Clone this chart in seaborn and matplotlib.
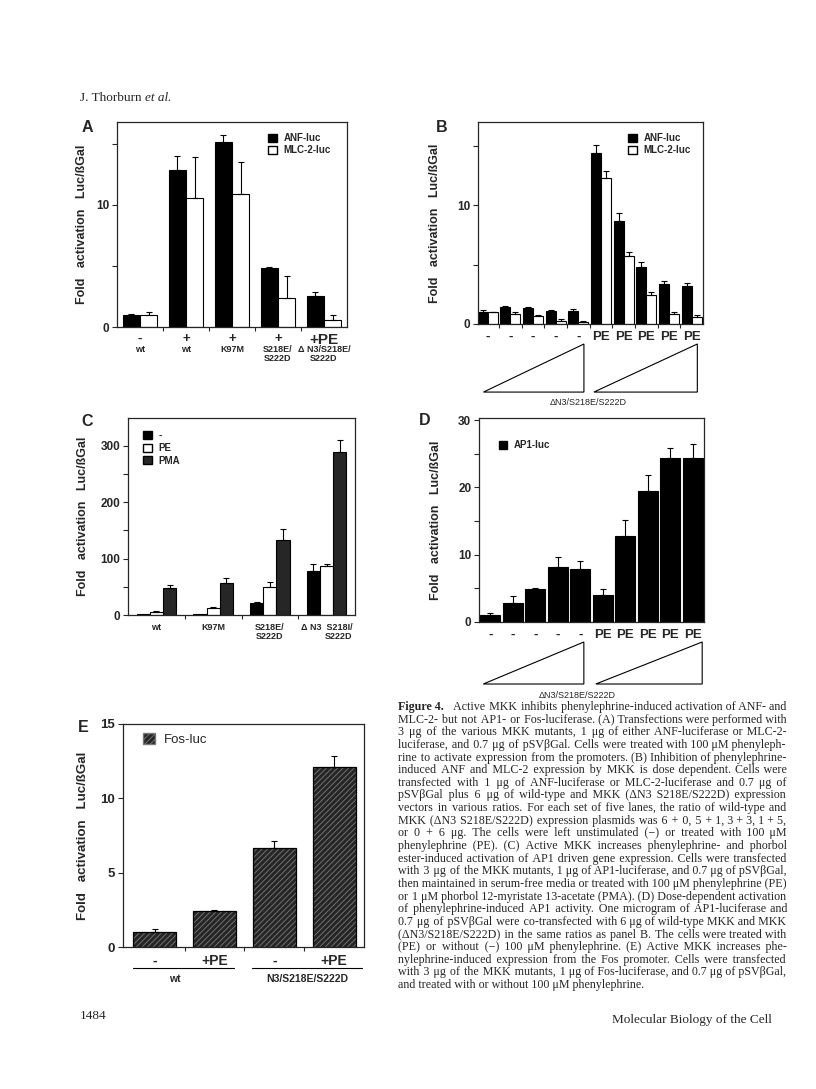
import numpy as np
import pandas as pd
import matplotlib
matplotlib.use('Agg')
import matplotlib.pyplot as plt
import matplotlib.transforms as mtransforms
from matplotlib.patches import Patch, Polygon, Rectangle
import seaborn as sns

# ---- data ----
# Panel A
a_top = ['-', '+', '+', '+', '+PE']
a_bottom = ['wt', 'wt', 'K97M', 'S218E/\nS222D', '\u0394 N3/S218E/\nS222D']
a_anf = [1.0, 12.9, 15.2, 4.8, 2.5]
a_anf_err = [0.1, 1.1, 0.5, 0.1, 0.4]
a_mlc = [1.0, 10.6, 10.9, 2.4, 0.6]
a_mlc_err = [0.2, 3.3, 2.6, 1.8, 0.4]

# Panel B
b_labels = ['-', '-', '-', '-', '-', 'PE', 'PE', 'PE', 'PE', 'PE']
b_anf = [1.0, 1.42, 1.34, 1.12, 1.06, 14.4, 8.7, 4.8, 3.35, 3.24]
b_anf_err = [0.2, 0.08, 0.08, 0.08, 0.2, 0.7, 0.65, 0.45, 0.3, 0.2]
b_mlc = [1.0, 0.87, 0.64, 0.28, 0.17, 12.3, 5.7, 2.46, 0.84, 0.61]
b_mlc_err = [0.05, 0.13, 0.08, 0.14, 0.05, 0.6, 0.35, 0.22, 0.14, 0.14]

# Panel C
c_labels = ['wt', 'K97M', 'S218E/\nS222D', '\u0394 N3  S218I/\nS222D']
c_none = [1, 1, 22, 78]
c_none_err = [0, 0, 1.5, 12]
c_pe = [4.7, 12, 50, 87]
c_pe_err = [2, 3, 8, 4]
c_pma = [48, 56, 132, 288]
c_pma_err = [6, 10, 20, 22]

# Panel D
d_labels = ['-', '-', '-', '-', '-', 'PE', 'PE', 'PE', 'PE', 'PE']
d_ap1 = [1.07, 2.8, 4.9, 8.2, 7.85, 4.0, 12.8, 19.4, 24.3, 24.3]
d_ap1_err = [0.23, 1.0, 0.2, 1.4, 1.25, 0.85, 2.3, 2.4, 1.5, 2.2]

# Panel E
e_labels = ['-', '+PE', '-', '+PE']
e_fos = [1.0, 2.43, 6.63, 12.14]
e_fos_err = [0.2, 0.07, 0.51, 0.74]

W, H = 816, 1089
HATCH_FACE = '#262626'
HATCH_LINE = '#7a7a7a'
PMA_GRAY = '#262626'

sns.set_style('ticks')
plt.rcParams['font.family'] = ['Liberation Sans', 'DejaVu Sans']
plt.rcParams['font.weight'] = 'bold'
plt.rcParams['axes.labelweight'] = 'bold'
plt.rcParams['axes.linewidth'] = 0.9
plt.rcParams['hatch.linewidth'] = 0.6
plt.rcParams['xtick.direction'] = 'out'
plt.rcParams['ytick.direction'] = 'out'

fig = plt.figure(figsize=(W / 100, H / 100), dpi=100)


def place(x0, y0, x1, y1):
    return fig.add_axes([x0 / W, 1 - y1 / H, (x1 - x0) / W, (y1 - y0) / H])


def grouped_bars(ax, n, series, names, colors, width):
    cats = [f'g{i}' for i in range(n)]
    rows = []
    for name, vals in zip(names, series):
        for c, v in zip(cats, vals):
            rows.append({'cat': c, 'val': v, 'ser': name})
    df = pd.DataFrame(rows)
    sns.barplot(data=df, x='cat', y='val', hue='ser', order=cats, hue_order=names,
                palette=dict(zip(names, colors)), width=width, saturation=1,
                edgecolor='k', linewidth=0.8, legend=False, ax=ax)


def add_errors(ax, errs_list):
    for cont, errs in zip(ax.containers, errs_list):
        for bar, e in zip(cont, errs):
            if e <= 0:
                continue
            x = bar.get_x() + bar.get_width() / 2
            h = bar.get_height()
            ax.errorbar(x, h, yerr=[[0], [e]], fmt='none', ecolor='k',
                        elinewidth=0.8, capsize=2.5, capthick=0.8)


def style_axes(ax, n, ylim, major, minor, ylabel_x, xlim=None):
    ax.set_ylim(*ylim)
    ax.set_xlim(*(xlim if xlim else (-0.5, n - 0.5)))
    ax.set_yticks(major)
    ax.set_yticks(minor, minor=True)
    ax.set_xticks(range(n))
    ax.set_xticks(np.arange(0.5, n - 1, 1), minor=True)
    ax.tick_params(axis='x', which='major', length=0, pad=4)
    ax.tick_params(axis='x', which='minor', length=3, width=0.8)
    ax.tick_params(axis='y', which='both', length=3.5, width=0.8, labelsize=8.5, pad=2)
    for s in ax.spines.values():
        s.set_visible(True)
    ax.set_xlabel('')
    ax.set_ylabel('Fold   activation   Luc/\u00dfGal', fontsize=9)
    ax.yaxis.set_label_coords(ylabel_x, 0.5)


def legend(ax, handles, anchor, size=7, weight='bold'):
    ax.legend(handles=handles, loc='upper left', bbox_to_anchor=anchor, frameon=False,
              prop={'size': size, 'weight': weight}, handlelength=0.9, handleheight=0.9,
              handletextpad=0.7, labelspacing=0.25, borderaxespad=0)


def wedge(ax, x0, x1, ytop, ybot):
    tr = mtransforms.blended_transform_factory(ax.transData, ax.transAxes)
    ax.add_patch(Polygon([(x0, ybot), (x1, ybot), (x1, ytop)], closed=True, fill=False,
                         edgecolor='k', linewidth=0.8, transform=tr, clip_on=False))


# ---------------- Panel A ----------------
axA = place(117, 122, 347, 327)
grouped_bars(axA, 5, [a_anf, a_mlc], ['ANF-luc', 'MLC-2-luc'], ['black', 'white'], 0.74)
add_errors(axA, [a_anf_err, a_mlc_err])
style_axes(axA, 5, (0, 16.8), [0, 10], [5, 15], -0.125)
axA.set_xticklabels(a_top, fontsize=9.5)
axA.get_xticklabels()[-1].set_fontsize(11)
trA = mtransforms.blended_transform_factory(axA.transData, axA.transAxes)
for i, lab in enumerate(a_bottom):
    axA.text(i, -0.088, lab, transform=trA, ha='center', va='top', fontsize=6.5,
             linespacing=1.05)
legend(axA, [Patch(fc='k', ec='k', label='ANF-luc'), Patch(fc='w', ec='k', label='MLC-2-luc')],
       (0.64, 0.965))

# ---------------- Panel B ----------------
axB = place(478, 122, 703, 324)
grouped_bars(axB, 10, [b_anf, b_mlc], ['ANF-luc', 'MLC-2-luc'], ['black', 'white'], 0.88)
add_errors(axB, [b_anf_err, b_mlc_err])
style_axes(axB, 10, (0, 17), [0, 10], [5, 15], -0.165, xlim=(-0.42, 9.5))
axB.set_xticklabels(b_labels, fontsize=9.5)
axB.tick_params(axis='x', which='major', pad=5)
wedge(axB, -0.18, 4.25, -0.099, -0.337)
wedge(axB, 4.69, 9.25, -0.099, -0.337)
trB = mtransforms.blended_transform_factory(axB.transData, axB.transAxes)
axB.text(4.45, -0.39, '\u0394N3/S218E/S222D', transform=trB, ha='center', va='center',
         fontsize=6.5, fontweight='normal')
legend(axB, [Patch(fc='k', ec='k', label='ANF-luc'), Patch(fc='w', ec='k', label='MLC-2-luc')],
       (0.65, 0.965))

# ---------------- Panel C ----------------
axC = place(128, 418, 355, 615)
grouped_bars(axC, 4, [c_none, c_pe, c_pma], ['-', 'PE', 'PMA'], ['black', 'white', PMA_GRAY], 0.7)
add_errors(axC, [c_none_err, c_pe_err, c_pma_err])
style_axes(axC, 4, (0, 349), [0, 100, 200, 300], [50, 150, 250], -0.17)
axC.set_xticklabels(c_labels, fontsize=6.5, linespacing=1.0)
axC.get_xticklabels()[3].set_multialignment('right')
axC.tick_params(axis='x', which='major', pad=6)
legend(axC, [Patch(fc='k', ec='k', label='-'), Patch(fc='w', ec='k', label='PE'),
             Patch(fc=PMA_GRAY, ec='k', label='PMA')], (0.05, 0.955))

# ---------------- Panel D ----------------
axD = place(479, 418, 704, 622)
sns.barplot(x=[f'd{i}' for i in range(10)], y=d_ap1, color='black', saturation=1,
            width=0.88, edgecolor='k', linewidth=0.8, ax=axD)
add_errors(axD, [d_ap1_err])
style_axes(axD, 10, (0, 30.3), [0, 10, 20, 30], [5, 15, 25], -0.165)
axD.set_xticklabels(d_labels, fontsize=9.5)
axD.tick_params(axis='x', which='minor', length=0)
axD.tick_params(axis='x', which='major', pad=5)
wedge(axD, -0.31, 4.16, -0.098, -0.304)
wedge(axD, 4.69, 9.42, -0.098, -0.304)
trD = mtransforms.blended_transform_factory(axD.transData, axD.transAxes)
axD.text(3.85, -0.36, '\u0394N3/S218E/S222D', transform=trD, ha='center', va='center',
         fontsize=6.5, fontweight='normal')
legend(axD, [Patch(fc='k', ec='k', label='AP1-luc')], (0.07, 0.91))

# ---------------- Panel E ----------------
axE = place(123, 724, 364, 947)
sns.barplot(x=[f'e{i}' for i in range(4)], y=e_fos, color=HATCH_FACE, saturation=1,
            width=0.72, edgecolor=HATCH_LINE, linewidth=0.6, hatch='//////', ax=axE)
for bar in list(axE.containers[0]):
    axE.add_patch(Rectangle((bar.get_x(), 0), bar.get_width(), bar.get_height(),
                            fill=False, edgecolor='k', linewidth=0.9))
add_errors(axE, [e_fos_err])
style_axes(axE, 4, (0, 15), [0, 5, 10, 15], [], -0.14, xlim=(-0.53, 3.5))
axE.tick_params(axis='y', labelsize=9.5)
axE.set_xticklabels(e_labels, fontsize=10)
axE.tick_params(axis='x', which='major', pad=5)
axE.set_ylabel('Fold   activation   Luc/\u00dfGal', fontsize=9.5)
trE = mtransforms.blended_transform_factory(axE.transData, axE.transAxes)
for x0, x1 in [(-0.37, 1.33), (1.63, 3.47)]:
    axE.plot([x0, x1], [-0.094, -0.094], color='k', linewidth=0.8, transform=trE, clip_on=False)
axE.text(0.33, -0.143, 'wt', transform=trE, ha='center', va='center', fontsize=7.5)
axE.text(2.55, -0.143, 'N3/S218E/S222D', transform=trE, ha='center', va='center', fontsize=7.5)
legend(axE, [Patch(fc=HATCH_FACE, ec=HATCH_LINE, hatch='//////', label='Fos-luc')],
       (0.06, 0.985), size=9.5, weight='normal')

# panel letters
for letter, (px, py) in zip('ABCDE', [(87, 127), (442, 127), (87, 422), (425, 421), (83, 727)]):
    fig.text(px / W, 1 - py / H, letter, fontsize=11.5, fontweight='bold',
             ha='center', va='center')

# ---------------- page text ----------------
SERIF = ['Liberation Serif', 'DejaVu Serif']
renderer = fig.canvas.get_renderer()

caption_head = 'Figure 4.'
caption = [
    'Active MKK inhibits phenylephrine-induced activation of ANF- and',
    'MLC-2- but not AP1- or Fos-luciferase. (A) Transfections were performed with',
    '3 \u03bcg of the various MKK mutants, 1 \u03bcg of either ANF-luciferase or MLC-2-',
    'luciferase, and 0.7 \u03bcg of pSV\u03b2Gal. Cells were treated with 100 \u03bcM phenyleph-',
    'rine to activate expression from the promoters. (B) Inhibition of phenylephrine-',
    'induced ANF and MLC-2 expression by MKK is dose dependent. Cells were',
    'transfected with 1 \u03bcg of ANF-luciferase or MLC-2-luciferase and 0.7 \u03bcg of',
    'pSV\u03b2Gal plus 6 \u03bcg of wild-type and MKK (\u0394N3 S218E/S222D) expression',
    'vectors in various ratios. For each set of five lanes, the ratio of wild-type and',
    'MKK (\u0394N3 S218E/S222D) expression plasmids was 6 + 0, 5 + 1, 3 + 3, 1 + 5,',
    'or 0 + 6 \u03bcg. The cells were left unstimulated (\u2212) or treated with 100 \u03bcM',
    'phenylephrine (PE). (C) Active MKK increases phenylephrine- and phorbol',
    'ester-induced activation of AP1 driven gene expression. Cells were transfected',
    'with 3 \u03bcg of the MKK mutants, 1 \u03bcg of AP1-luciferase, and 0.7 \u03bcg of pSV\u03b2Gal,',
    'then maintained in serum-free media or treated with 100 \u03bcM phenylephrine (PE)',
    'or 1 \u03bcM phorbol 12-myristate 13-acetate (PMA). (D) Dose-dependent activation',
    'of phenylephrine-induced AP1 activity. One microgram of AP1-luciferase and',
    '0.7 \u03bcg of pSV\u03b2Gal were co-transfected with 6 \u03bcg of wild-type MKK and MKK',
    '(\u0394N3/S218E/S222D) in the same ratios as panel B. The cells were treated with',
    '(PE) or without (\u2212) 100 \u03bcM phenylephrine. (E) Active MKK increases phe-',
    'nylephrine-induced expression from the Fos promoter. Cells were transfected',
    'with 3 \u03bcg of the MKK mutants, 1 \u03bcg of Fos-luciferase, and 0.7 \u03bcg of pSV\u03b2Gal,',
    'and treated with or without 100 \u03bcM phenylephrine.',
]

HAIR = '\u200a'


def text_w(s, **kw):
    t = fig.text(0, 0, s, **kw)
    w = t.get_window_extent(renderer).width
    t.remove()
    return w


cap_x0, cap_x1 = 398, 786
cap_y0, cap_dy = 710, 12.64
# pick the largest size at which every line still fits the column
cap_fs = 9.0
widest = max(text_w(l, family=SERIF, fontsize=cap_fs, fontweight='normal') for l in caption[1:])
cap_fs = min(cap_fs, cap_fs * (cap_x1 - cap_x0) / widest * 0.995)
kw = dict(family=SERIF, fontsize=cap_fs, fontweight='normal')
hair_w = (text_w('x' + HAIR * 20 + 'x', **kw) - text_w('xx', **kw)) / 20


def justify(line, width):
    words = line.split()
    natural = text_w(' '.join(words), **kw)
    n = max(0, int(round((width - natural) / hair_w)))
    gaps = len(words) - 1
    if gaps == 0:
        return line
    base, rem = divmod(n, gaps)
    out = words[0]
    for k, w in enumerate(words[1:]):
        out += ' ' + HAIR * (base + (1 if k < rem else 0)) + w
    return out


for i, line in enumerate(caption):
    y = 1 - round(cap_y0 + i * cap_dy) / H
    x0 = cap_x0
    if i == 0:
        th = fig.text(x0 / W, y, caption_head, family=SERIF, fontsize=cap_fs,
                      fontweight='bold', va='baseline')
        x0 += th.get_window_extent(renderer).width + cap_fs * 100 / 72 * 0.75
    if i == len(caption) - 1:
        s = line
    else:
        s = justify(line, cap_x1 - x0)
    fig.text(x0 / W, y, s, va='baseline', **kw)

t1 = fig.text(80 / W, 1 - 101 / H, 'J. Thorburn ', family=SERIF, fontsize=9.5,
              fontweight='normal', va='baseline')
w1 = t1.get_window_extent(renderer).width
fig.text((80 + w1) / W, 1 - 101 / H, 'et al.', family=SERIF, fontsize=9.5,
         fontweight='normal', style='italic', va='baseline')
fig.text(80 / W, 1 - 1019 / H, '1484', family=SERIF, fontsize=9.5, fontweight='normal',
         va='baseline')
fig.text(772 / W, 1 - 1023 / H, 'Molecular Biology of the Cell', family=SERIF, fontsize=9.5,
         fontweight='normal', va='baseline', ha='right')

fig.savefig('out.png', dpi=100, facecolor='white')
